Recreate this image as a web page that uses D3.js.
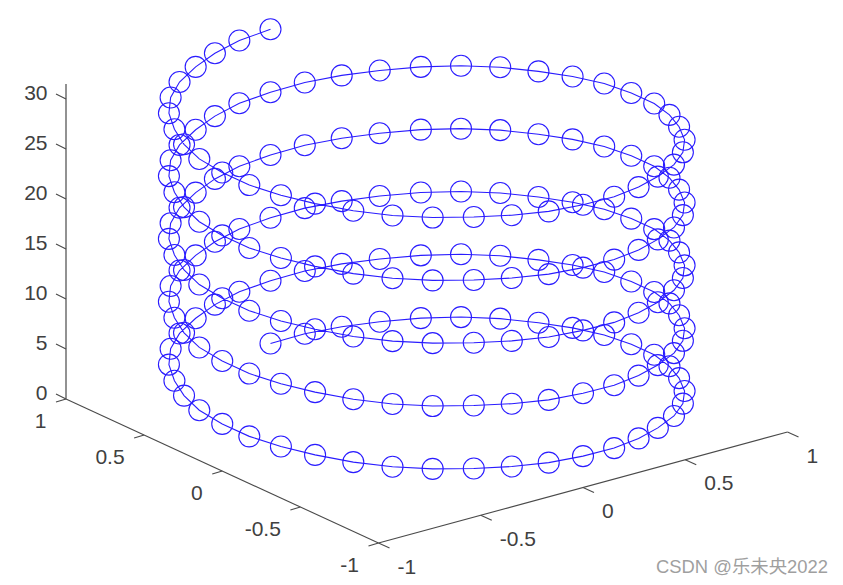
<!DOCTYPE html>
<html><head><meta charset="utf-8">
<script src="https://cdn.jsdelivr.net/npm/d3@7"></script>
<style>html,body{margin:0;padding:0;background:#fff}svg{display:block}</style>
</head><body><svg id="c" width="843" height="585"></svg>
<script>
const xValues = [
0,.16,.31,.45,.59,.71,.81,.89,.95,.99,1,.99,.95,.89,.81,.71,.59,.45,.31,.16,0,-.16,-.31,-.45,-.59,-.71,-.81,-.89,-.95,-.99,-1,-.99,-.95,-.89,-.81,-.71,-.59,-.45,-.31,-.16,
0,.16,.31,.45,.59,.71,.81,.89,.95,.99,1,.99,.95,.89,.81,.71,.59,.45,.31,.16,0,-.16,-.31,-.45,-.59,-.71,-.81,-.89,-.95,-.99,-1,-.99,-.95,-.89,-.81,-.71,-.59,-.45,-.31,-.16,
0,.16,.31,.45,.59,.71,.81,.89,.95,.99,1,.99,.95,.89,.81,.71,.59,.45,.31,.16,0,-.16,-.31,-.45,-.59,-.71,-.81,-.89,-.95,-.99,-1,-.99,-.95,-.89,-.81,-.71,-.59,-.45,-.31,-.16,
0,.16,.31,.45,.59,.71,.81,.89,.95,.99,1,.99,.95,.89,.81,.71,.59,.45,.31,.16,0,-.16,-.31,-.45,-.59,-.71,-.81,-.89,-.95,-.99,-1,-.99,-.95,-.89,-.81,-.71,-.59,-.45,-.31,-.16,
0,.16,.31,.45,.59,.71,.81,.89,.95,.99,1,.99,.95,.89,.81,.71,.59,.45,.31,.16,0,-.16,-.31,-.45,-.59,-.71,-.81,-.89,-.95,-.99,-1,-.99,-.95,-.89,-.81,-.71,-.59,-.45,-.31,-.16,
0];
const yValues = [
1,.99,.95,.89,.81,.71,.59,.45,.31,.16,0,-.16,-.31,-.45,-.59,-.71,-.81,-.89,-.95,-.99,-1,-.99,-.95,-.89,-.81,-.71,-.59,-.45,-.31,-.16,0,.16,.31,.45,.59,.71,.81,.89,.95,.99,
1,.99,.95,.89,.81,.71,.59,.45,.31,.16,0,-.16,-.31,-.45,-.59,-.71,-.81,-.89,-.95,-.99,-1,-.99,-.95,-.89,-.81,-.71,-.59,-.45,-.31,-.16,0,.16,.31,.45,.59,.71,.81,.89,.95,.99,
1,.99,.95,.89,.81,.71,.59,.45,.31,.16,0,-.16,-.31,-.45,-.59,-.71,-.81,-.89,-.95,-.99,-1,-.99,-.95,-.89,-.81,-.71,-.59,-.45,-.31,-.16,0,.16,.31,.45,.59,.71,.81,.89,.95,.99,
1,.99,.95,.89,.81,.71,.59,.45,.31,.16,0,-.16,-.31,-.45,-.59,-.71,-.81,-.89,-.95,-.99,-1,-.99,-.95,-.89,-.81,-.71,-.59,-.45,-.31,-.16,0,.16,.31,.45,.59,.71,.81,.89,.95,.99,
1,.99,.95,.89,.81,.71,.59,.45,.31,.16,0,-.16,-.31,-.45,-.59,-.71,-.81,-.89,-.95,-.99,-1,-.99,-.95,-.89,-.81,-.71,-.59,-.45,-.31,-.16,0,.16,.31,.45,.59,.71,.81,.89,.95,.99,
1];
const zValues = [
0,.16,.31,.47,.63,.79,.94,1.10,1.26,1.41,
1.57,1.73,1.88,2.04,2.20,2.36,2.51,2.67,2.83,2.98,
3.14,3.30,3.46,3.61,3.77,3.93,4.08,4.24,4.40,4.56,
4.71,4.87,5.03,5.18,5.34,5.50,5.65,5.81,5.97,6.13,
6.28,6.44,6.60,6.75,6.91,7.07,7.23,7.38,7.54,7.70,
7.85,8.01,8.17,8.33,8.48,8.64,8.80,8.95,9.11,9.27,
9.42,9.58,9.74,9.90,10.05,10.21,10.37,10.52,10.68,10.84,
11.00,11.15,11.31,11.47,11.62,11.78,11.94,12.10,12.25,12.41,
12.57,12.72,12.88,13.04,13.19,13.35,13.51,13.67,13.82,13.98,
14.14,14.30,14.45,14.61,14.77,14.92,15.08,15.24,15.39,15.55,
15.71,15.86,16.02,16.18,16.34,16.49,16.65,16.81,16.96,17.12,
17.28,17.44,17.59,17.75,17.91,18.06,18.22,18.38,18.54,18.69,
18.85,19.01,19.16,19.32,19.48,19.63,19.79,19.95,20.11,20.26,
20.42,20.58,20.73,20.89,21.05,21.21,21.36,21.52,21.68,21.83,
21.99,22.15,22.31,22.46,22.62,22.78,22.93,23.09,23.25,23.40,
23.56,23.72,23.88,24.03,24.19,24.35,24.50,24.66,24.82,24.98,
25.13,25.29,25.45,25.60,25.76,25.92,26.08,26.23,26.39,26.55,
26.70,26.86,27.02,27.18,27.33,27.49,27.65,27.80,27.96,28.12,
28.27,28.43,28.59,28.75,28.90,29.06,29.22,29.37,29.53,29.69,
29.85,30.00,30.16,30.32,30.47,30.63,30.79,30.95,31.10,31.26,
31.42];
const xTicks = [-1,-0.5,0,0.5,1];
const yTicks = [-1,-0.5,0,0.5,1];
const zTicks = [0,5,10,15,20,25,30];
const zMax = 31.5;
const watermark = "CSDN @乐未央2022";

// Oblique projection (MATLAB default view) assembled from linear scales per screen axis
const xToSx = d3.scaleLinear().domain([-1,1]).range([378.5,787.5]);
const xToSy = d3.scaleLinear().domain([-1,1]).range([543,432]);
const yToSx = d3.scaleLinear().domain([-1,1]).range([0,-312.5]);
const yToSy = d3.scaleLinear().domain([-1,1]).range([0,-144]);
const zToSy = d3.scaleLinear().domain([0,30]).range([0,-300]);
const px = (x,y) => xToSx(x) + yToSx(y);
const py = (x,y,z) => xToSy(x) + yToSy(y) + zToSy(z);

const svg = d3.select("#c");
const font = '"Liberation Sans", Arial, sans-serif';
const axisColor = "#4a4a4a", textColor = "#404040";
const axes = svg.append("g").attr("fill","none").attr("stroke",axisColor).attr("stroke-width",1.1);
const seg = (a,b,c,d) => axes.append("line").attr("x1",a).attr("y1",b).attr("x2",c).attr("y2",d);

seg(px(-1,-1),py(-1,-1,0),px(1,-1),py(1,-1,0));
seg(px(-1,1),py(-1,1,0),px(-1,-1),py(-1,-1,0));
seg(px(-1,1),py(-1,1,0),px(-1,1),py(-1,1,zMax)).attr("stroke","#777").attr("stroke-width",1.6);

const text = (s,x,y,anchor,size=21,fill=textColor) => svg.append("text").text(s)
  .attr("x",x).attr("y",y).attr("text-anchor",anchor).attr("dominant-baseline","central")
  .attr("font-family",font).attr("font-size",size).attr("fill",fill);

const fmt = v => String(v);
xTicks.forEach(v => {
  const a = px(v,-1), b = py(v,-1,0);
  seg(a,b,a+11,b+5);
  text(fmt(v), a+19, b+23, "start");
});
yTicks.forEach(v => {
  const a = px(-1,v), b = py(-1,v,0);
  seg(a,b,a-10,b+3);
  text(fmt(v), a-19.5, b+21, "end");
});
zTicks.forEach(v => {
  const a = px(-1,1), b = py(-1,1,v);
  seg(a,b,a-10,b-5);
  text(fmt(v), a-18.5, b-7, "end");
});

const pts = xValues.map((x,i) => ({x, y:yValues[i], z:zValues[i]}));
const blue = "#2a1cff";
svg.append("path").datum(pts)
  .attr("d", d3.line().x(d=>px(d.x,d.y)).y(d=>py(d.x,d.y,d.z)))
  .attr("fill","none").attr("stroke",blue).attr("stroke-width",1.1);
svg.append("g").selectAll("circle").data(pts).join("circle")
  .attr("cx",d=>px(d.x,d.y)).attr("cy",d=>py(d.x,d.y,d.z)).attr("r",10.5)
  .attr("fill","none").attr("stroke",blue).attr("stroke-width",1.1);

svg.append("text").text(watermark).attr("x",656).attr("y",573)
  .attr("font-family",'"Liberation Sans", "Noto Sans CJK SC", sans-serif')
  .attr("font-size",18.4).attr("fill","#9f9f9f");
</script></body></html>
